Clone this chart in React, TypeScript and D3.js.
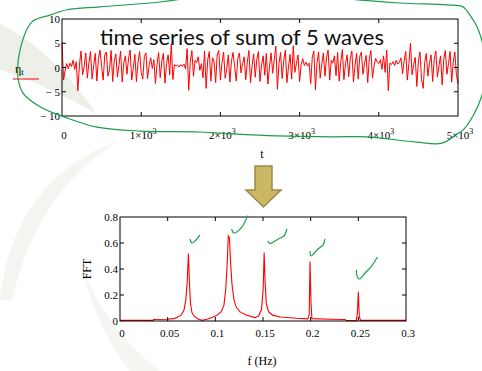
import React from "react";
import * as d3 from "d3";

const W = 482;
const H = 371;

// time series, one value every 20 time units (t = 0 .. 5000)
const tStep = 20;
const eta = [
  5.2, -2.6, -0.5, 0.8, -0.3, 0.9, 0.2, 1.5, -0.4, 1.2, -4.8, 0.5, 3.4, -1.5, 0.2, 3.0, -2.2, 1.0, 3.3, -2.4, 0.4, 2.9, -2.8, 1.8, 3.6,
  0.2, -2.6, 2.6, 3.2, -1.8, -0.4, 3.5, -2.9, 1.4, 2.8, -2.0, 0.6, 3.4, -3.0, 0.9, 2.4, -1.4, 1.8, 3.6, -2.6, -0.2, 2.7, -2.9, 1.1, 3.3,
  -1.0, -2.4, 2.3, 3.0, -2.3, 0.4, 2.0, -0.2, 1.6, -3.3, 0.7, 3.1, -2.1, 1.3, 2.9, -3.2, 0.8, 2.6, -1.5, 4.9, -2.5, 0.6, 0.3, 0.5, 0.1,
  0.6, 0.2, 0.7, -0.3, 3.9, -4.7, 1.2, 3.5, -1.8, 1.5, 1.0, 2.2, -0.6, 0.8, -2.1, 3.4, -4.3, 1.6, 3.3, -2.8, 2.0, 1.2, -3.1, 2.7, 3.5,
  -2.6, 0.9, 3.2, -2.2, -0.3, 2.6, -3.0, 1.4, 3.1, 0.2, -2.8, 1.9, 3.0, -1.1, 0.8, 2.2, -2.5, 1.1, 3.5, -3.2, 0.4, 2.8, -2.0, 1.7, 3.3,
  -2.9, 0.5, 2.4, -1.6, 2.9, -3.4, 0.3, 3.0, -1.2, 1.6, 4.4, -4.5, 0.9, 3.1, -2.3, 1.4, 3.6, -3.1, 0.1, 2.7, -2.4, 4.5, -1.0, 0.8, 2.6,
  -2.9, 0.6, 1.8, 0.4, 1.1, 0.3, 0.9, -3.3, 2.1, 3.4, -4.6, 1.0, 3.2, -2.2, 0.7, 3.0, -1.8, 2.1, 3.6, -2.6, 1.5, 0.9, 2.4, -1.7, 3.1,
  -2.8, 1.2, 3.7, -2.5, 0.8, 2.6, -1.9, 1.9, 3.4, -3.0, 0.5, 2.9, -2.4, 2.3, 3.2, -1.4, 0.9, 2.5, -3.1, 1.8, 3.5, -2.2, 0.3, 1.9, 1.1,
  0.8, 1.6, -0.4, 2.4, -1.0, 3.6, -4.8, 0.9, 0.6, 1.2, 0.4, 1.5, 0.7, 1.1, 2.0, -1.3, 1.4, 3.3, -2.6, 0.8, 5.0, -1.5, 0.6, 2.1, -3.9,
  1.3, 3.2, -2.5, -4.3, 1.1, 2.9, -1.8, 0.9, 2.6, -2.9, 1.6, 3.4, -2.0, 0.4, 2.4, -3.6, 1.7, 3.5, -1.4, 0.8, 3.3, -3.0, 1.1, 3.2, -1.6,
  -3.3,
];

// FFT spectrum
const fftFreq = [
  0, 0.035, 0.0352, 0.05, 0.056, 0.0594, 0.064, 0.067, 0.069, 0.0705, 0.0718, 0.0728, 0.074, 0.0755, 0.078, 0.082, 0.086,
  0.091, 0.097, 0.102, 0.106, 0.109, 0.111, 0.1125, 0.1136, 0.1148, 0.116, 0.1175, 0.1196, 0.122, 0.126, 0.133, 0.1416,
  0.1455, 0.1485, 0.1502, 0.1512, 0.1522, 0.1535, 0.156, 0.16, 0.168, 0.185, 0.197, 0.1985, 0.1993, 0.2003, 0.2013,
  0.22, 0.236, 0.238, 0.2478, 0.249, 0.25, 0.251, 0.2522, 0.3,
];
const fftAmp = [
  0.005, 0.005, 0.012, 0.013, 0.018, 0.026, 0.045, 0.08, 0.16, 0.3, 0.52, 0.3, 0.13, 0.065, 0.035, 0.015, 0.005,
  0.013, 0.028, 0.045, 0.07, 0.12, 0.25, 0.45, 0.655, 0.64, 0.45, 0.28, 0.16, 0.105, 0.07, 0.044, 0.026,
  0.04, 0.09, 0.25, 0.527, 0.3, 0.13, 0.07, 0.045, 0.031, 0.021, 0.016, 0.05, 0.457, 0.15, 0.018,
  0.013, 0.011, 0.003, 0.003, 0.06, 0.225, 0.04, 0.005, 0.005,
];

const topYTicks = [10, 5, 0, -5, -10];
const topYLabels = ["10", "5", "0", "\u2212 5", "\u2212 10"];
const topXTicks = [0, 1000, 2000, 3000, 4000, 5000];
const topXMant = ["0", "1", "2", "3", "4", "5"];

const fftYTicks = [0, 0.2, 0.4, 0.6, 0.8];
const fftYLabels = ["0", "0.2", "0.4", "0.6", "0.8"];
const fftXTicks = [0, 0.05, 0.1, 0.15, 0.2, 0.25, 0.3];
const fftXLabels = ["0", "0.05", "0.1", "0.15", "0.2", "0.25", "0.3"];

// hand-drawn green ring round the top chart, in (t, eta) units
const ringT = [1578, 1237, 480, 63, -152, -379, -530, -556, -492, -278, 63, 442, 985, 1742, 2159, 2715, 3422, 3851,
  4482, 4798, 4987, 5063, 5189, 5303, 5354, 5316, 5240, 5151, 5063, 4861, 4268, 3637];
const ringV = [14.3, 13.5, 12.5, 11.9, 10.8, 9.4, 3.6, -2.0, -5.3, -8.1, -10.4, -12.3, -13.1, -13.3, -13.7, -14.1, -14.3, -14.3,
  -15.4, -15.6, -13.7, -12.9, -10.0, -5.7, -0.5, 4.6, 8.4, 10.8, 12.5, 12.9, 13.3, 14.1];

// hand-drawn green ticks above the FFT peaks, in (f, amplitude) units
const checks = [
  { f: [0.0734, 0.0755, 0.0797, 0.0839], a: [0.631, 0.6, 0.623, 0.662] },
  { f: [0.117, 0.1196, 0.127, 0.132, 0.1335], a: [0.708, 0.677, 0.715, 0.777, 0.81] },
  { f: [0.155, 0.157, 0.166, 0.172, 0.175], a: [0.615, 0.596, 0.631, 0.654, 0.708] },
  { f: [0.1993, 0.2003, 0.2077, 0.213, 0.215], a: [0.538, 0.5, 0.554, 0.585, 0.631] },
  { f: [0.248, 0.2486, 0.251, 0.258, 0.264, 0.27], a: [0.392, 0.346, 0.323, 0.377, 0.423, 0.492] },
];

const serif = "'Liberation Serif', 'Times New Roman', serif";
const green = "#1c9e4b";

export default function App() {
  // top chart
  const x1 = d3.scaleLinear().domain([0, 5000]).range([62, 458]);
  const y1 = d3.scaleLinear().domain([-10, 10]).range([116, 19]);
  const seriesLine = d3
    .line<number>()
    .x((_, i) => x1(Math.min(i * tStep, 5000)))
    .y((d) => y1(d));
  const ring = d3
    .line<number>()
    .x((d) => x1(d))
    .y((_, i) => y1(ringV[i]))
    .curve(d3.curveCatmullRom);

  // FFT chart
  const x2 = d3.scaleLinear().domain([0, 0.3]).range([120, 406]);
  const y2 = d3.scaleLinear().domain([0, 0.8]).range([321, 217]);
  const fftLine = d3
    .line<number>()
    .x((d) => x2(d))
    .y((_, i) => y2(fftAmp[i]));

  const tk = 4;

  return (
    <svg width={W} height={H} style={{ position: "absolute", left: 0, top: 0, background: "#fff" }}>
      {/* pale slide decoration */}
      <path d="M0,24 C38,42 72,78 97,114 C66,96 32,80 0,70 Z" fill="#edf0e9" />
      <path d="M0,300 C8,230 40,170 120,140 C70,170 30,220 12,300 Z" fill="#f3f5f0" />
      <path d="M78,250 C90,300 120,340 160,371 L130,371 C105,340 88,300 78,250 Z" fill="#f5f6f2" />

      {/* top chart */}
      <text x={100} y={45} fontFamily="Lato, 'Open Sans', sans-serif" fontSize={22} fill="#111">
        time series of sum of 5 waves
      </text>
      <path d={seriesLine(eta) || ""} fill="none" stroke="#ff0000" strokeWidth={1} />
      <rect x={62} y={19} width={396} height={97} fill="none" stroke="#000" strokeWidth={1} />
      {topXTicks.slice(1, -1).map((t) => (
        <g key={t} stroke="#000">
          <line x1={x1(t)} x2={x1(t)} y1={19} y2={19 + tk} />
          <line x1={x1(t)} x2={x1(t)} y1={116} y2={116 - tk} />
        </g>
      ))}
      {topYTicks.slice(1, -1).map((v) => (
        <g key={v} stroke="#000">
          <line x1={62} x2={62 + tk} y1={y1(v)} y2={y1(v)} />
          <line x1={458} x2={458 - tk} y1={y1(v)} y2={y1(v)} />
        </g>
      ))}
      {topYTicks.map((v, i) => (
        <text key={v} x={60} y={y1(v) + 4} textAnchor="end" fontFamily={serif} fontSize={11}>
          {topYLabels[i]}
        </text>
      ))}
      {topXTicks.map((t, i) =>
        i === 0 ? (
          <text key={t} x={x1(t) + 2} y={139} textAnchor="middle" fontFamily={serif} fontSize={11}>
            0
          </text>
        ) : (
          <text key={t} x={x1(t) + 2} y={139} textAnchor="middle" fontFamily={serif} fontSize={11}>
            {topXMant[i]}×10<tspan dy={-5} fontSize={8}>3</tspan>
          </text>
        )
      )}
      <text x={262} y={158} textAnchor="middle" fontFamily={serif} fontSize={12}>
        t
      </text>
      <text x={15} y={73} fontFamily={serif} fontSize={12}>
        η<tspan dy={2} fontSize={9}>t</tspan>
      </text>
      <line x1={13} x2={39} y1={79} y2={79} stroke="#ff0000" strokeWidth={1} />

      {/* arrow */}
      <path
        d="M255,166 L272,166 L272,190 L281,190 L263.5,207 L246,190 L255,190 Z"
        fill="#cbb864"
        stroke="#9c8a4a"
        strokeWidth={1.5}
      />

      {/* FFT chart */}
      <path d={fftLine(fftFreq) || ""} fill="none" stroke="#ff0000" strokeWidth={1.1} />
      <rect x={120} y={217} width={286} height={104} fill="none" stroke="#000" strokeWidth={1} />
      {fftXTicks.slice(1, -1).map((f) => (
        <g key={f} stroke="#000">
          <line x1={x2(f)} x2={x2(f)} y1={217} y2={217 + tk} />
          <line x1={x2(f)} x2={x2(f)} y1={321} y2={321 - tk} />
        </g>
      ))}
      {fftYTicks.slice(1, -1).map((v) => (
        <g key={v} stroke="#000">
          <line x1={120} x2={120 + tk} y1={y2(v)} y2={y2(v)} />
          <line x1={406} x2={406 - tk} y1={y2(v)} y2={y2(v)} />
        </g>
      ))}
      {fftYTicks.map((v, i) => (
        <text key={v} x={118} y={y2(v) + 4} textAnchor="end" fontFamily={serif} fontSize={11}>
          {fftYLabels[i]}
        </text>
      ))}
      {fftXTicks.map((f, i) => (
        <text key={f} x={x2(f) + 2} y={337} textAnchor="middle" fontFamily={serif} fontSize={11}>
          {fftXLabels[i]}
        </text>
      ))}
      <text x={262} y={365} textAnchor="middle" fontFamily={serif} fontSize={12}>
        f (Hz)
      </text>
      <text
        transform={`translate(91,269) rotate(-90)`}
        textAnchor="middle"
        fontFamily={serif}
        fontSize={12}
      >
        FFT
      </text>

      {/* green hand annotations */}
      <path d={ring(ringT) || ""} fill="none" stroke={green} strokeWidth={1.2} />
      {checks.map((c, k) => (
        <path
          key={k}
          d={
            d3
              .line<number>()
              .x((d) => x2(d))
              .y((_, i) => y2(c.a[i]))
              .curve(d3.curveCatmullRom)(c.f) || ""
          }
          fill="none"
          stroke={green}
          strokeWidth={1.2}
        />
      ))}
    </svg>
  );
}
